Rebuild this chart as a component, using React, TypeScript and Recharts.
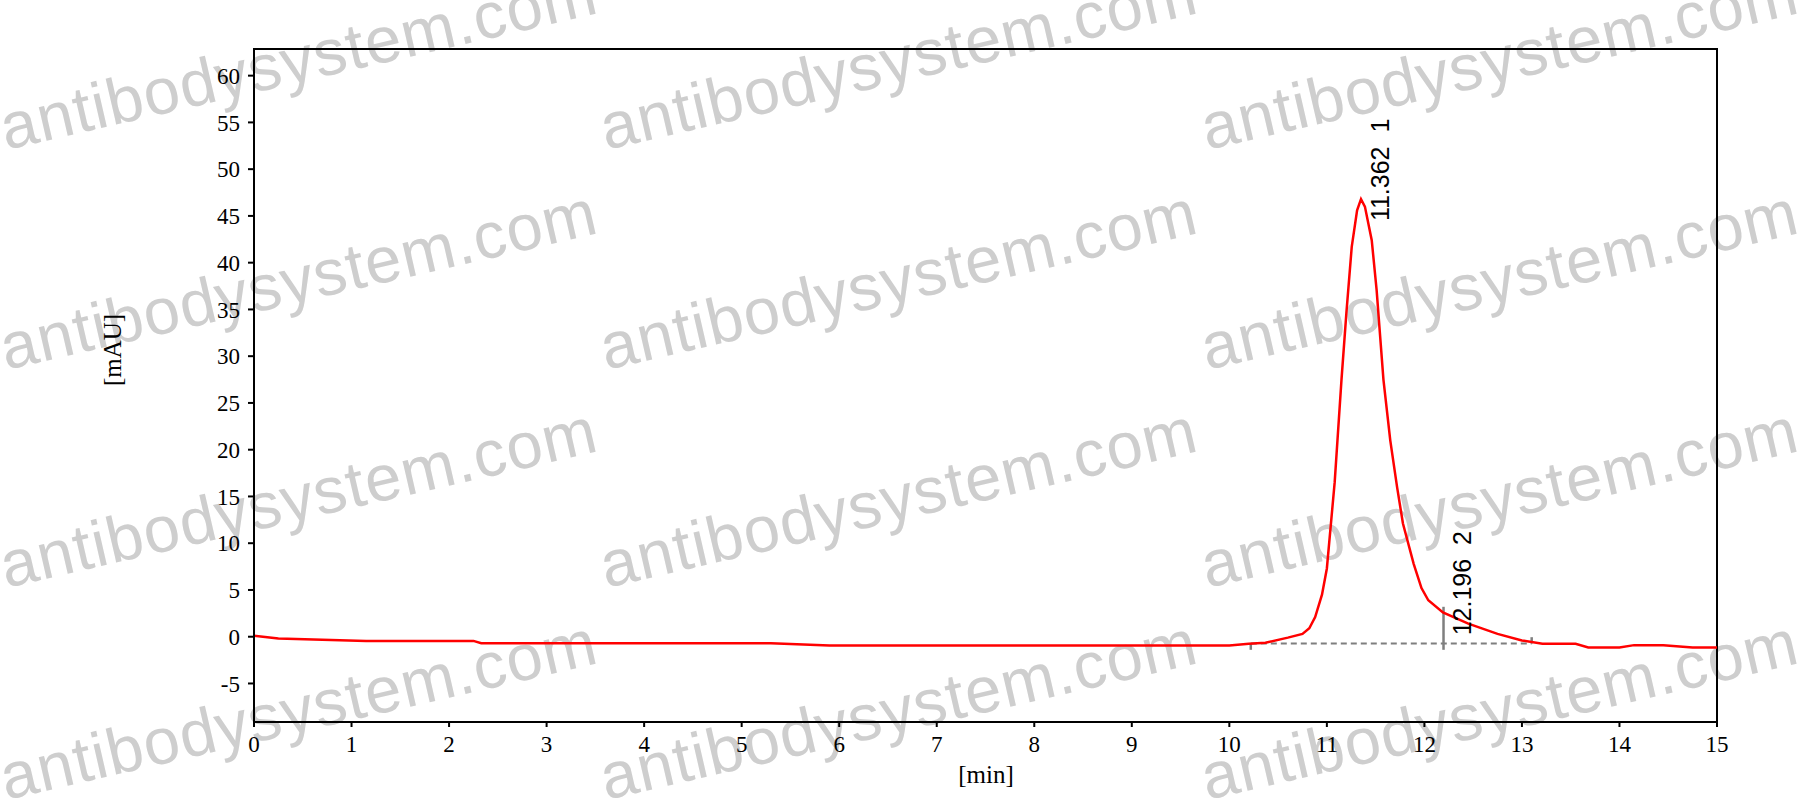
// HPLC chromatogram (SEC) with peak annotations
import {
  ComposedChart,
  Line,
  Scatter,
  XAxis,
  YAxis,
  ReferenceLine,
  ReferenceArea,
} from "recharts";

// retention time [min] and detector signal [mAU]
const TIME = [
  0, 0.25, 1.15, 2.25, 2.33, 5.3, 5.9, 10.0, 10.2, 10.37, 10.6, 10.75, 10.82, 10.88, 10.95,
  11.0, 11.08, 11.15, 11.2, 11.255, 11.31, 11.35, 11.39, 11.46, 11.51, 11.58, 11.65, 11.72,
  11.78, 11.89, 11.97, 12.04, 12.19, 12.45, 12.75, 13.0, 13.21, 13.55, 13.68, 14.0, 14.15,
  14.45, 14.75, 15.0,
];
const SIGNAL = [
  0.1, -0.2, -0.45, -0.45, -0.7, -0.7, -0.95, -0.95, -0.75, -0.65, -0.1, 0.3, 0.9, 2.1, 4.5,
  7.3, 16.5, 27.5, 34.6, 41.7, 45.6, 46.8, 46.0, 42.4, 37.1, 27.5, 21.0, 16.0,
  12.1, 7.8, 5.2, 3.9, 2.6, 1.4, 0.3, -0.4, -0.75, -0.75, -1.15, -1.15, -0.9,
  -0.9, -1.15, -1.15,
];

const X_TICKS = [0, 1, 2, 3, 4, 5, 6, 7, 8, 9, 10, 11, 12, 13, 14, 15];
const Y_TICKS = [-5, 0, 5, 10, 15, 20, 25, 30, 35, 40, 45, 50, 55, 60];
const Y_DOMAIN = [-9.12, 62.85];

// integrated peaks
const PEAK_RT = [11.362, 12.196];
const PEAK_HEIGHT = [46.8, 2.5];
const PEAK_NO = ["1", "2"];

// integration baseline and peak delimiters
const BASELINE_T = [10.22, 13.1];
const BASELINE_V = -0.72;
const MARK_T = [10.22, 12.196, 13.1];
const MARK_LO = [-1.4, -1.4, -0.72];
const MARK_HI = [-0.72, 3.2, -0.05];

const WATERMARK = "antibodysystem.com";
const WM_X = [6, 606, 1207];
const WM_Y = [150, 370, 588, 800];

const rows = TIME.map((t, i) => ({ t, v: SIGNAL[i] }));
const peaks = PEAK_RT.map((t, i) => ({ t, v: PEAK_HEIGHT[i], no: PEAK_NO[i] }));

const serif = "'Liberation Serif', 'Times New Roman', serif";
const sans = "'Liberation Sans', Arial, sans-serif";

const tickStyle = { fill: "#000", fontFamily: serif, fontSize: 23 };

function PeakLabel(props: any) {
  const { cx, cy, payload } = props;
  if (cx == null || cy == null) return null;
  return (
    <text
      transform={`translate(${cx + 27},${cy + 22}) rotate(-90)`}
      fontFamily={sans}
      fontSize={25}
      fill="#000"
      style={{ whiteSpace: "pre" }}
    >
      {`${payload.t.toFixed(3)}  ${payload.no}`}
    </text>
  );
}

export default function App() {
  return (
    <div style={{ position: "absolute", left: 0, top: 0, width: 1800, height: 800, background: "#fff" }}>
      <svg style={{ position: "absolute", left: 0, top: 0 }} width={1800} height={800}>
        {WM_Y.flatMap((y) =>
          WM_X.map((x) => (
            <text
              key={`${x}-${y}`}
              x={x}
              y={y}
              transform={`rotate(-13 ${x} ${y})`}
              fontFamily={sans}
              fontSize={65}
              letterSpacing={1}
              fill="#cecece"
            >
              {WATERMARK}
            </text>
          ))
        )}
      </svg>
      <div style={{ position: "absolute", left: 0, top: 0 }}>
        <ComposedChart
          width={1800}
          height={800}
          data={rows}
          margin={{ top: 49, right: 83, bottom: 38, left: 194 }}
        >
          <XAxis
            dataKey="t"
            type="number"
            domain={[0, 15]}
            ticks={X_TICKS}
            interval={0}
            tick={tickStyle}
            tickSize={5}
            tickMargin={9}
            tickLine={{ stroke: "#000", strokeWidth: 2 }}
            axisLine={{ stroke: "#000", strokeWidth: 2 }}
            height={40}
            label={() => (
              <text x={986} y={783} textAnchor="middle" fontFamily={serif} fontSize={25} fill="#000">
                [min]
              </text>
            )}
          />
          <YAxis
            type="number"
            domain={Y_DOMAIN}
            ticks={Y_TICKS}
            interval={0}
            allowDataOverflow
            tick={tickStyle}
            tickSize={6}
            tickMargin={8}
            tickLine={{ stroke: "#000", strokeWidth: 2 }}
            axisLine={{ stroke: "#000", strokeWidth: 2 }}
            width={60}
            label={() => (
              <text
                transform="translate(121,350) rotate(-90)"
                textAnchor="middle"
                fontFamily={serif}
                fontSize={25}
                fill="#000"
              >
                [mAU]
              </text>
            )}
          />
          <ReferenceArea
            x1={0}
            x2={15}
            y1={Y_DOMAIN[0]}
            y2={Y_DOMAIN[1]}
            fill="none"
            fillOpacity={0}
            stroke="#000"
            strokeWidth={2}
          />
          <ReferenceLine
            segment={[
              { x: BASELINE_T[0], y: BASELINE_V },
              { x: BASELINE_T[1], y: BASELINE_V },
            ]}
            stroke="#7f7f7f"
            strokeWidth={2}
            strokeDasharray="6 4"
          />
          {MARK_T.map((t, i) => (
            <ReferenceLine
              key={`m${i}`}
              segment={[
                { x: t, y: MARK_LO[i] },
                { x: t, y: MARK_HI[i] },
              ]}
              stroke="#7f7f7f"
              strokeWidth={2.5}
            />
          ))}
          <Line
            dataKey="v"
            type="linear"
            stroke="#ff0000"
            strokeWidth={2.5}
            dot={false}
            activeDot={false}
            isAnimationActive={false}
          />
          <Scatter data={peaks} dataKey="v" shape={PeakLabel} isAnimationActive={false} />
        </ComposedChart>
      </div>
    </div>
  );
}
